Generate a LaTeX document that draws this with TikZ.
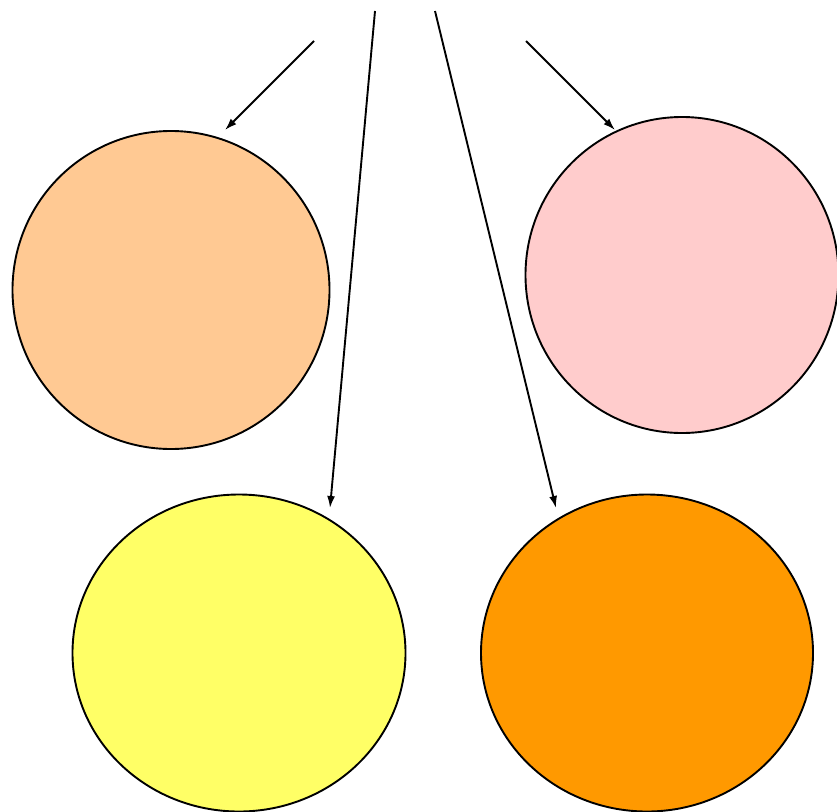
\documentclass[tikz,border=0pt]{standalone}
\usetikzlibrary{shapes.geometric,arrows.meta}
\definecolor{peach}{HTML}{FFC993}
\definecolor{pinkc}{HTML}{FFCCCC}
\definecolor{yellowc}{HTML}{FFFF66}
\definecolor{orangec}{HTML}{FF9900}
\tikzset{
  blob/.style={ellipse, draw=black, line width=1.9pt, inner sep=0pt},
  conn/.style={line width=1.9pt, -{Latex[length=12pt,width=8pt]}}
}
\begin{document}
\begin{tikzpicture}[x=1pt,y=-1pt]
\useasboundingbox (0,0) rectangle (837,811);
\node[blob, fill=peach, minimum width=317pt, minimum height=318pt] (peachc) at (171,290) {};
\node[blob, fill=pinkc, minimum width=313pt, minimum height=316pt] (pinkcirc) at (682,275) {};
\node[blob, fill=yellowc, minimum width=333pt, minimum height=317pt] (yellowcirc) at (239,653) {};
\node[blob, fill=orangec, minimum width=332pt, minimum height=317pt] (orangecirc) at (647,653) {};
\coordinate (s1) at (314,41);
\coordinate (e1) at (225,130);
\coordinate (s2) at (375,11);
\coordinate (e2) at (330,508);
\coordinate (s3) at (435,11);
\coordinate (e3) at (556,508);
\coordinate (s4) at (526,41);
\coordinate (e4) at (615,130);
\draw[conn] (s1) -- (e1);
\draw[conn] (s2) -- (e2);
\draw[conn] (s3) -- (e3);
\draw[conn] (s4) -- (e4);
\end{tikzpicture}
\end{document}
